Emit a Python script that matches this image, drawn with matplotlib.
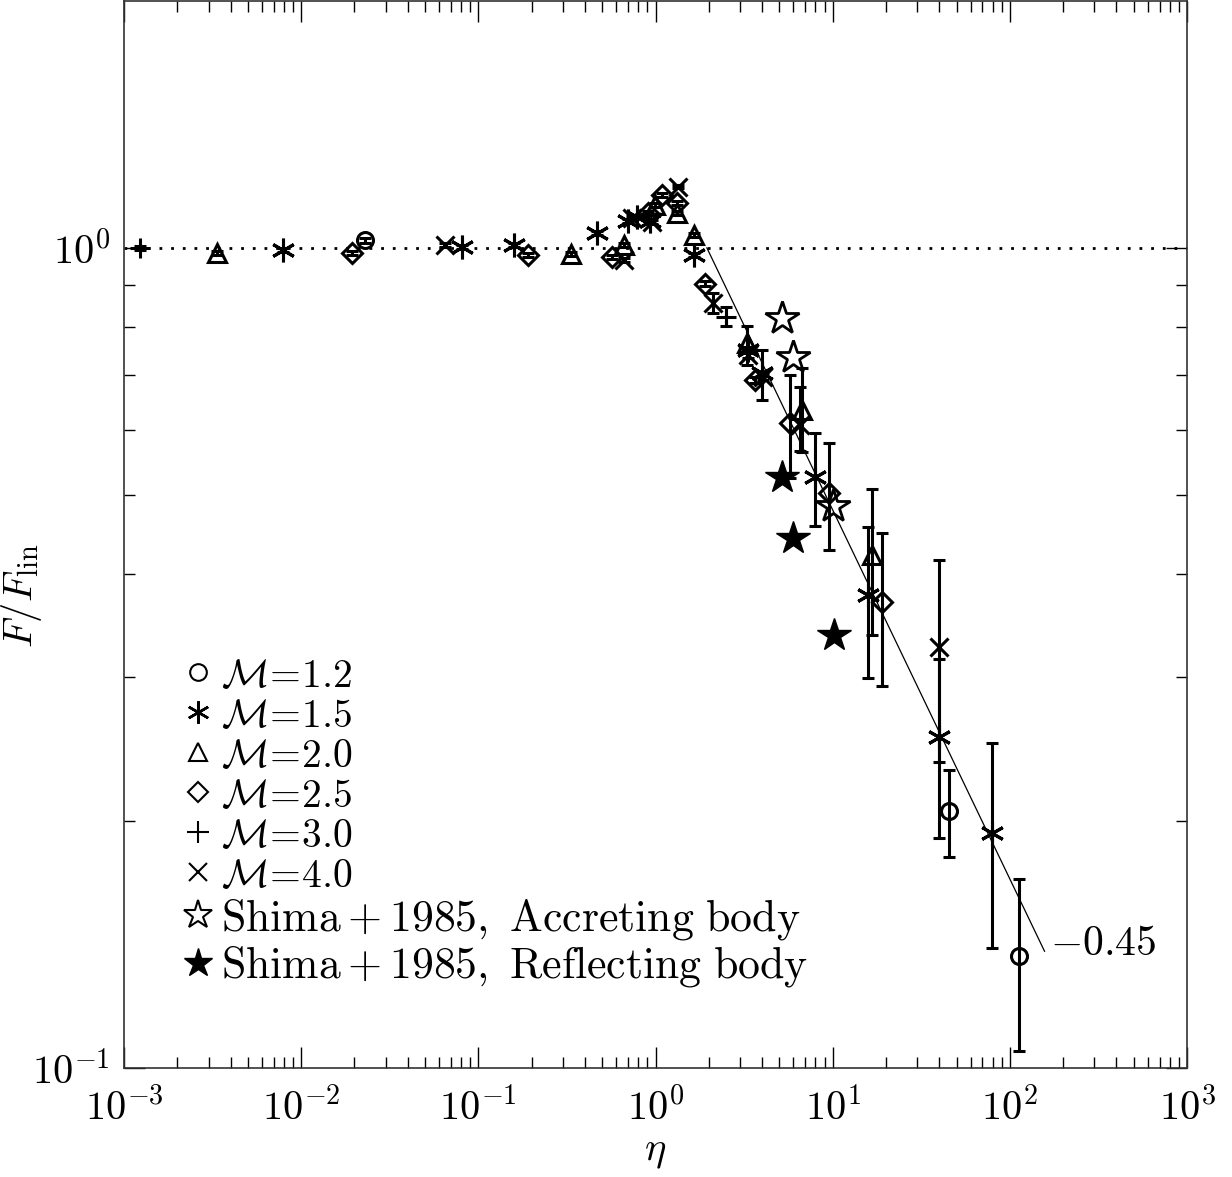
import numpy as np
import matplotlib
matplotlib.use('Agg')
import matplotlib.pyplot as plt
from matplotlib.lines import Line2D
from matplotlib.ticker import FixedLocator, FuncFormatter, NullFormatter

plt.rcParams['mathtext.fontset'] = 'cm'
plt.rcParams['font.family'] = ['DejaVu Serif']

# ---------------- data ----------------
m12_eta = [0.0229, 45.4, 112.4]
m12_f = [1.021, 0.2055, 0.137]
m12_lo = [1.013, 0.181, 0.105]
m12_hi = [1.029, 0.231, 0.170]

m15_eta = [0.00792, 0.0805, 0.159, 0.467, 0.698, 0.785, 0.930, 1.64, 3.32, 3.97, 7.93, 15.9, 39.8, 78.8]
m15_f = [0.994, 1.002, 1.008, 1.044, 1.079, 1.092, 1.077, 0.981, 0.751, 0.704, 0.526, 0.377, 0.2533, 0.1937]
m15_lo = [0.988, 0.996, 1.002, 1.038, 1.073, 1.086, 1.071, 0.975, 0.745, 0.652, 0.458, 0.299, 0.191, 0.140]
m15_hi = [1.000, 1.008, 1.014, 1.050, 1.085, 1.098, 1.083, 0.987, 0.757, 0.750, 0.594, 0.457, 0.315, 0.249]

m20_eta = [0.00333, 0.333, 0.664, 0.992, 1.32, 1.654, 3.29, 6.68, 16.6]
m20_f = [0.985, 0.983, 1.008, 1.128, 1.103, 1.037, 0.766, 0.634, 0.422]
m20_lo = [0.979, 0.977, 1.002, 1.122, 1.097, 1.031, 0.720, 0.563, 0.337]
m20_hi = [0.991, 0.989, 1.014, 1.134, 1.109, 1.043, 0.802, 0.713, 0.508]

m25_eta = [0.0193, 0.191, 0.565, 0.906, 1.082, 1.315, 1.90, 3.64, 5.73, 9.52, 19.1]
m25_f = [0.985, 0.981, 0.974, 1.103, 1.160, 1.134, 0.904, 0.690, 0.611, 0.502, 0.370]
m25_lo = [0.979, 0.975, 0.968, 1.097, 1.154, 1.128, 0.898, 0.684, 0.524, 0.428, 0.292]
m25_hi = [0.991, 0.987, 0.980, 1.109, 1.166, 1.140, 0.910, 0.696, 0.700, 0.578, 0.449]

m30_eta = [0.00123, 2.49]
m30_f = [1.0, 0.823]
m30_lo = [0.994, 0.802]
m30_hi = [1.006, 0.846]

m40_eta = [0.0648, 0.664, 0.736, 0.954, 1.343, 2.10, 3.34, 4.05, 6.53, 39.7]
m40_f = [1.008, 0.967, 1.088, 1.076, 1.188, 0.856, 0.740, 0.696, 0.608, 0.326]
m40_lo = [1.002, 0.961, 1.082, 1.070, 1.182, 0.833, 0.734, 0.690, 0.565, 0.236]
m40_hi = [1.014, 0.973, 1.094, 1.082, 1.194, 0.881, 0.746, 0.702, 0.677, 0.416]

shima_acc_eta = [5.15, 5.98, 10.07]
shima_acc_f = [0.821, 0.737, 0.484]
shima_ref_eta = [5.15, 5.98, 10.16]
shima_ref_f = [0.526, 0.443, 0.337]

fit_slope = -0.45
fit_eta = [1.95, 157.0]
fit_label = r'$-0.45$'

x_major = [1e-3, 1e-2, 1e-1, 1e0, 1e1, 1e2, 1e3]
y_major = [1e-1, 1e0]

labels = [r'$\mathcal{M}\!=\!1.2$', r'$\mathcal{M}\!=\!1.5$', r'$\mathcal{M}\!=\!2.0$',
          r'$\mathcal{M}\!=\!2.5$', r'$\mathcal{M}\!=\!3.0$', r'$\mathcal{M}\!=\!4.0$',
          r'$\mathrm{Shima+1985,\ Accreting\ body}$',
          r'$\mathrm{Shima+1985,\ Reflecting\ body}$']

# ---------------- figure ----------------
W, H = 1232, 1177
fig = plt.figure(figsize=(W / 100, H / 100), dpi=100)
ax = fig.add_axes([124 / W, 1 - 1068 / H, (1187 - 124) / W, (1068 - 1) / H])
ax.set_xscale('log')
ax.set_yscale('log')
ax.set_xlim(1e-3, 1e3)
ax.set_ylim(0.1, 2.0)

# reference lines
ax.axhline(1.0, color='k', lw=2.0, ls=(0, (1, 3.2)), zorder=1)
fe = np.array(fit_eta)
ax.plot(fe, (fe / fe[0]) ** fit_slope, color='k', lw=0.9, zorder=1)
ax.text(168, 0.142, fit_label, fontsize=30, ha='left', va='center')

series = [
    (m12_eta, m12_f, m12_lo, m12_hi, 'o', 11.5),
    (m15_eta, m15_f, m15_lo, m15_hi, (6, 2, 0), 17),
    (m20_eta, m20_f, m20_lo, m20_hi, '^', 13),
    (m25_eta, m25_f, m25_lo, m25_hi, 'D', 10),
    (m30_eta, m30_f, m30_lo, m30_hi, '+', 14),
    (m40_eta, m40_f, m40_lo, m40_hi, 'x', 13),
]

for eta, f, lo, hi, mk, ms in series:
    eta = np.array(eta); f = np.array(f); lo = np.array(lo); hi = np.array(hi)
    ax.errorbar(eta, f, yerr=[f - lo, hi - f], fmt='none', ecolor='k',
                elinewidth=2.2, capsize=4.2, capthick=2.2, zorder=2)
    ax.plot(eta, f, ls='none', marker=mk, ms=ms, mfc='none', mec='k', mew=2.2, zorder=3)

ax.plot(shima_acc_eta, shima_acc_f, ls='none', marker='*', ms=25, mfc='none', mec='k', mew=2.0, zorder=3)
ax.plot(shima_ref_eta, shima_ref_f, ls='none', marker='*', ms=25, mfc='k', mec='k', mew=1.0, zorder=3)

# legend
handles = [
    Line2D([], [], ls='none', marker='o', ms=12, mfc='none', mec='k', mew=1.5),
    Line2D([], [], ls='none', marker=(6, 2, 0), ms=16, mfc='none', mec='k', mew=1.8),
    Line2D([], [], ls='none', marker='^', ms=13, mfc='none', mec='k', mew=1.5),
    Line2D([], [], ls='none', marker='D', ms=10, mfc='none', mec='k', mew=1.5),
    Line2D([], [], ls='none', marker='+', ms=16, mfc='none', mec='k', mew=1.5),
    Line2D([], [], ls='none', marker='x', ms=13, mfc='none', mec='k', mew=1.5),
    Line2D([], [], ls='none', marker='*', ms=21, mfc='none', mec='k', mew=1.5),
    Line2D([], [], ls='none', marker='*', ms=21, mfc='k', mec='k', mew=1.0),
]
leg = ax.legend(handles, labels, loc='upper left', bbox_to_anchor=(0.055, 0.385),
                frameon=False, fontsize=31, handlelength=0.7, handletextpad=0.2,
                labelspacing=0.04, borderpad=0, borderaxespad=0, numpoints=1)
for t in leg.get_texts()[:6]:
    t.set_fontsize(28.5)
for t in leg.get_texts()[6:]:
    t.set_fontsize(31.5)

# axes styling
fmt = FuncFormatter(lambda v, p: r'$10^{%d}$' % int(round(np.log10(v))))
x_minor = [m * d for d in x_major[:-1] for m in range(2, 10)]
y_minor = [m * d for d in y_major[:-1] for m in range(2, 10)]
ax.xaxis.set_major_locator(FixedLocator(x_major))
ax.xaxis.set_minor_locator(FixedLocator(x_minor))
ax.yaxis.set_major_locator(FixedLocator(y_major))
ax.yaxis.set_minor_locator(FixedLocator(y_minor))
for axis in (ax.xaxis, ax.yaxis):
    axis.set_major_formatter(fmt)
    axis.set_minor_formatter(NullFormatter())
ax.tick_params(which='both', direction='in', top=True, right=True, labelsize=29, color='k')
ax.tick_params(which='major', length=15, width=1.0)
ax.tick_params(which='minor', length=8, width=1.0)
ax.tick_params(axis='x', which='major', pad=14)
ax.tick_params(axis='y', which='major', pad=10)
for s in ax.spines.values():
    s.set_linewidth(1.2)
    s.set_color('#333333')

ax.set_xlabel(r'$\eta$', fontsize=29, labelpad=4)
ax.set_ylabel(r'$F/F_{\rm lin}$', fontsize=29)
ax.yaxis.set_label_coords(-0.075, 0.443)

fig.savefig('out.png', dpi=100)
